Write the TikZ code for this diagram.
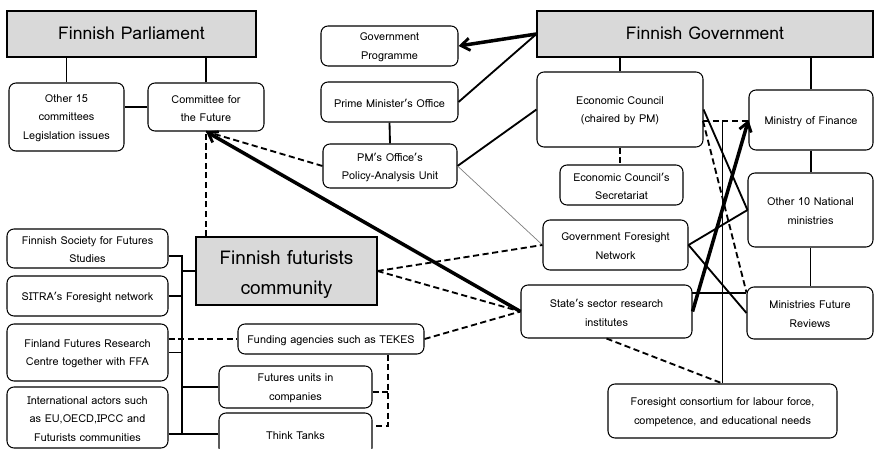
\documentclass[tikz,border=0pt]{standalone}
\usepackage{fontspec}
\setmainfont{Loma}
\usetikzlibrary{fit,arrows.meta,calc}
\definecolor{boxgray}{HTML}{D9D9D9}
\tikzset{
  bx/.style={draw, line width=0.6pt, rounded corners=4pt, inner sep=0pt, fill=white},
  bxtxt/.style={inner sep=0pt, align=center, font=\fontsize{6.2}{10.5}\selectfont, yshift=-0.7pt},
  hd/.style={draw, line width=0.6pt, inner sep=0pt, fill=boxgray},
  hdtxt/.style={inner sep=0pt, align=center, font=\fontsize{10}{12}\selectfont, yshift=0.4pt},
  ln/.style={line width=1.05pt},
  dl/.style={line width=1.05pt, dash pattern=on 3.5pt off 2pt},
  thk/.style={line width=2pt},
  tip/.style={-{Straight Barb[length=5pt,width=7pt,line width=1.6pt]}},
}
\newcommand{\nbox}[4][bx]{%
  \node[#1, fit={#3}] (#2) {};
  \node[#1txt] at (#2.center) (#2-t) {#4};}
\begin{document}
\begin{tikzpicture}[x=0.02cm,y=-0.02cm]
\clip (0,0) rectangle (875,449);
\fill[white] (0,0) rectangle (875,449);
% nodes
\nbox[hd]{par}{(7,11) (256,57)}{Finnish Parliament}
\nbox{oth}{(9,83) (124,151)}{Other 15\\committees\\Legislation issues}
\nbox{cff}{(148,83) (264,131)}{Committee for\\the Future}
\nbox{gp}{(321,26) (458,66)}{Government\\Programme}
\nbox{pmo}{(321,82) (458,122)}{Prime Minister's Office}
\nbox{pau}{(323,144) (457,188)}{PM's Office's\\Policy-Analysis Unit}
\nbox[hd]{gov}{(537,11) (873,57)}{Finnish Government}
\nbox{ec}{(537,72) (703,147)}{Economic Council\\(chaired by PM)}
\nbox{ecs}{(560,165) (683,205)}{Economic Council's\\Secretariat}
\nbox{mof}{(749,90) (873,150)}{Ministry of Finance}
\nbox{o10}{(748,173) (873,247)}{Other 10 National\\ministries}
\nbox{mfr}{(747,287) (873,339)}{Ministries Future\\Reviews}
\nbox{gfn}{(543,220) (688,270)}{Government Foresight\\Network}
\nbox{ssri}{(521,285) (692,338)}{State's sector research\\institutes}
\nbox{fc}{(608,384) (837,438)}{Foresight consortium for labour force,\\competence, and educational needs}
\node[hd, fit={(196,237) (377,305)}] (ffc) {};
\node[hdtxt, font=\fontsize{10.8}{17}\selectfont, yshift=-2.5pt] at (ffc.center) (ffc-t) {Finnish futurists\\community};
\nbox{fsfs}{(7,229) (168,268)}{Finnish Society for Futures\\Studies}
\nbox{sitra}{(7,276) (168,316)}{SITRA's Foresight network}
\nbox{ffrc}{(7,324) (168,381)}{Finland Futures Research\\Centre together with FFA}
\nbox{int}{(7,387) (168,448)}{International actors such\\as EU,OECD,IPCC and\\Futurists communities}
\nbox{tek}{(238,324) (424,354)}{Funding agencies such as TEKES}
\nbox{fu}{(219,366) (372,408)}{Futures units in\\companies}
\node[bx, fit={(219,413) (372,455)}] (tt) {};
\node[bxtxt] at (tt.center) (tt-t) {Think Tanks};
% helper coordinates
\coordinate (bt) at (182,256);
\coordinate (bb) at (182,434);
\coordinate (brk) at (388,354);
\coordinate (ecd) at (703,121);
\coordinate (sm) at (692,293);
% parliament side
\draw[ln] (oth.north) -- (oth.north |- par.south);
\draw[ln] (cff.north) -- (cff.north |- par.south);
\draw[ln] (cff.west) -- (cff.west -| oth.east);
% government side
\draw[thk, tip] (gov.west) -- (gp.east);
\draw[ln] (gov.west) -- (pmo.east);
\draw[ln] (pmo.south) -- (pau.north);
\draw[ln] (pau.east) -- (ec.west);
\draw[ln] (ec.north) -- (ec.north |- gov.south);
\draw[ln] (mof.north) -- (mof.north |- gov.south);
\draw[dl] (ec.south) -- (ec.south |- ecs.north);
\draw[ln] (mof.south) -- (mof.south |- o10.north);
\draw[ln] (o10.south) -- (o10.south |- mfr.north);
\draw[dl] (ecd) -- (ecd -| mof.west);
\draw[ln, line width=0.8pt] (fc.north) -- (fc.north |- ecd);
\draw[ln] (ec.east) -- (o10.west);
\draw[dl] (ecd) -- ($(mfr.north west)+(0,6)$);
\draw[thk, tip] (ssri.east) -- (mof.west);
\draw[ln] (sm) -- (sm -| mfr.west);
\draw[ln] (gfn.east) -- (o10.west);
\draw[ln] (gfn.east) -- (mfr.west);
\draw[gray, line width=0.4pt] (pau.east) -- (gfn.west);
% futurists
\draw[thk, tip] (ssri.west) -- (cff.south);
\draw[dl] (ffc.north -| cff.south) -- (cff.south);
\draw[dl] (pau.west) -- (cff.south);
\draw[dl] (ffc.east) -- (gfn.west);
\draw[dl] (ffc.east) -- (ssri.west);
\draw[dl] (tek.east) -- (ssri.west);
\draw[dl] (ssri.south) -- (fc.north);
% left bus
\draw[ln] (fsfs.east |- bt) -- (bt) -- (bb);
\draw[ln] (int.east |- bb) -- (tt.west |- bb);
\draw[ln] (ffc.west) -- (ffc.west -| bt);
\draw[ln] (sitra.east) -- (sitra.east -| bt);
\draw[ln] (ffrc.east) -- (ffrc.east -| bt);
\draw[ln] (fu.west) -- (fu.west -| bt);
\draw[dl] (ffrc.east |- tek.west) -- (tek.west);
\draw[dl] (tek.south -| brk) -- ($(brk |- tt.east)+(0,-8)$) -- ($(tt.east)+(0,-8)$);
\draw[dl] ($(fu.east)+(0,5)$) -- ($(fu.east -| brk)+(0,5)$);
\end{tikzpicture}
\end{document}
